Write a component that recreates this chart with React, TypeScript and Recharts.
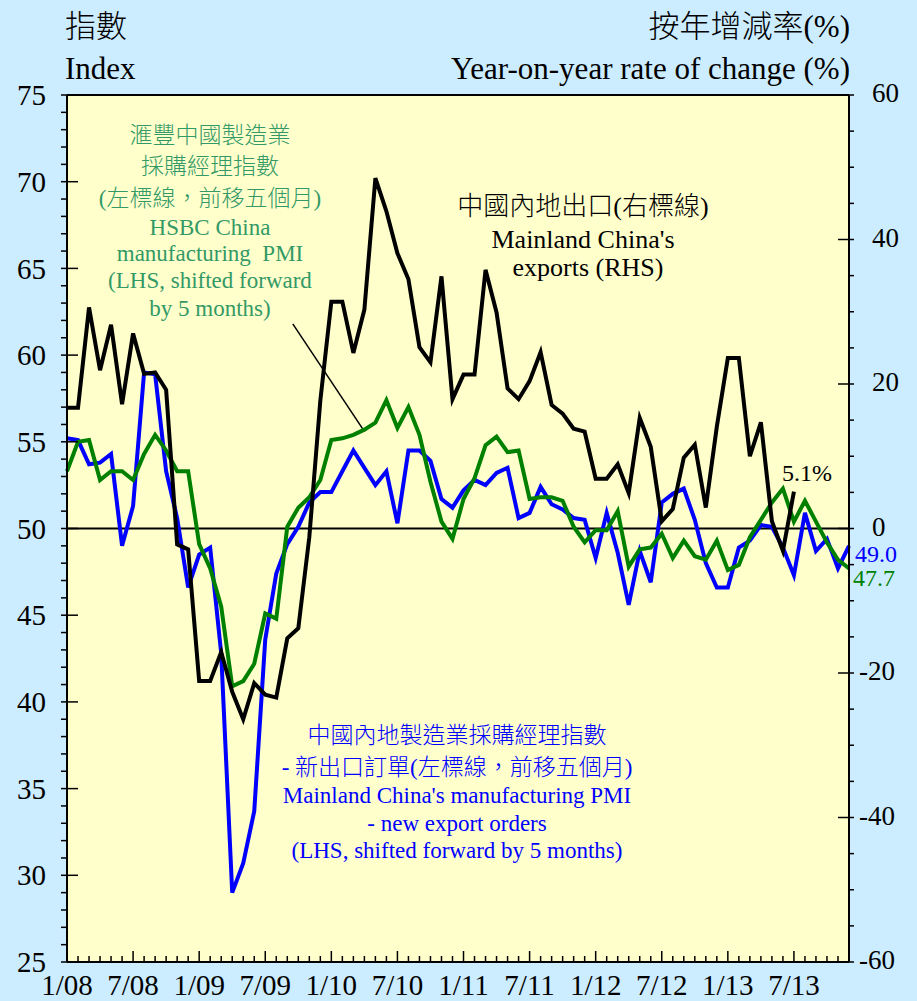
import React from 'react'
import { ComposedChart, Line, XAxis, YAxis, CartesianGrid, ReferenceLine } from 'recharts'

// month index 0 = Jan 2008 ... 71 = Dec 2013
const TICK_LABELS = ['1/08', '7/08', '1/09', '7/09', '1/10', '7/10', '1/11', '7/11', '1/12', '7/12', '1/13', '7/13']

// Mainland China exports, y-o-y % (RHS), Jan 2008 - Jul 2013
const EXPORTS = [
  16.7, 16.7, 30.6, 21.9, 28.2, 17.2, 27.0, 21.4, 21.6, 19.2, -2.2, -2.9,
  -21.1, -21.1, -17.1, -22.6, -26.4, -21.4, -23.0, -23.4, -15.2, -13.8, -1.2, 17.7,
  31.4, 31.4, 24.3, 30.3, 48.5, 43.9, 38.1, 34.5, 25.1, 23.0, 34.9, 17.9,
  21.3, 21.3, 35.8, 29.9, 19.4, 17.9, 20.4, 24.4, 17.1, 15.9, 13.8, 13.4,
  6.9, 6.9, 8.9, 4.9, 15.3, 11.3, 1.0, 2.7, 9.8, 11.6, 2.9, 14.1,
  23.6, 23.6, 10.0, 14.7, 1.0, -3.1, 5.1,
]

// HSBC China manufacturing PMI (LHS), shifted forward by 5 months
const HSBC_PMI = [
  53.3, 55.0, 55.1, 52.8, 53.3, 53.3, 52.8, 54.3, 55.4, 54.5, 53.3, 53.3,
  49.1, 47.7, 45.5, 40.9, 41.2, 42.2, 45.1, 44.8, 50.1, 51.2, 51.8, 52.8,
  55.1, 55.2, 55.4, 55.7, 56.1, 57.4, 55.8, 57.0, 55.4, 52.7, 50.4, 49.4,
  51.7, 52.9, 54.8, 55.3, 54.4, 54.5, 51.7, 51.8, 51.8, 51.6, 50.1, 49.2,
  49.9, 49.9, 51.0, 47.8, 48.8, 48.9, 49.7, 48.3, 49.3, 48.4, 48.2, 49.3,
  47.6, 47.9, 49.5, 50.5, 51.5, 52.3, 50.4, 51.6, 50.4, 49.2, 48.2, 47.7,
]

// Mainland China manufacturing PMI - new export orders (LHS), shifted forward by 5 months
const NEW_EXPORT_ORDERS = [
  55.2, 55.1, 53.7, 53.8, 54.3, 49.0, 51.3, 59.0, 58.9, 53.3, 50.6, 46.6,
  48.5, 48.9, 42.8, 29.0, 30.7, 33.7, 43.6, 47.4, 49.1, 50.1, 51.5, 52.1,
  52.1, 53.3, 54.5, 53.5, 52.5, 53.3, 50.3, 54.5, 54.5, 53.9, 51.7, 51.2,
  52.2, 52.8, 52.5, 53.2, 53.5, 50.6, 50.9, 52.4, 51.4, 51.1, 50.6, 50.5,
  48.3, 50.9, 48.6, 45.6, 48.7, 46.9, 51.5, 52.0, 52.3, 50.5, 48.0, 46.6,
  46.6, 48.9, 49.3, 50.2, 50.1, 48.9, 47.3, 50.9, 48.7, 49.4, 47.7, 49.0,
]

const LEFT_TICKS = Array.from({ length: 51 }, (_, k) => 25 + k)
const RIGHT_TICKS = Array.from({ length: 25 }, (_, k) => -60 + k * 5)
const X_TICKS = HSBC_PMI.map((_, i) => i)

// pointer from the HSBC label to its line (month index, LHS value)
const LEADER = [{ x: 20.5, y: 61.8 }, { x: 27.0, y: 55.6 }]

const data = HSBC_PMI.map((v, i) => ({
  i,
  hsbc: v,
  nbs: NEW_EXPORT_ORDERS[i],
  exports: i < EXPORTS.length ? EXPORTS[i] : null,
}))

const SERIF = '"Liberation Serif", "Times New Roman", "Noto Sans CJK TC", serif'
const BG = '#CCECFF'
const PLOT_BG = '#FFFFCC'
const GREEN = '#008000'
const GREEN_TEXT = '#339966'
const BLUE = '#0000FF'
const TICK_FONT = 29

function XTick(props: any) {
  const { x, y, payload } = props
  const i = payload.value
  const major = i % 6 === 0
  const label = major ? TICK_LABELS[i / 6] : undefined
  return (
    <g>
      <line x1={x} x2={x} y1={y} y2={y - (major ? 11 : 6)} stroke="#000" strokeWidth={1.5} />
      {label && (
        <text x={x} y={y + 33} textAnchor="middle" fontSize={TICK_FONT} fontFamily={SERIF} fill="#000">
          {label}
        </text>
      )}
    </g>
  )
}

function LeftTick(props: any) {
  const { x, y, payload } = props
  const v = payload.value
  const major = v % 5 === 0
  return (
    <g>
      <line x1={x - 6} x2={x + (major ? 11 : 0)} y1={y} y2={y} stroke="#000" strokeWidth={1.5} />
      {major && (
        <text x={x - 21} y={y} dy="0.35em" textAnchor="end" fontSize={TICK_FONT} fontFamily={SERIF} fill="#000">
          {v}
        </text>
      )}
    </g>
  )
}

function RightTick(props: any) {
  const { x, y, payload } = props
  const v = payload.value
  const major = v % 20 === 0
  return (
    <g>
      <line x1={x - (major ? 11 : 0)} x2={x + 5} y1={y} y2={y} stroke="#000" strokeWidth={1.5} />
      {major && (
        <text x={v < 0 ? x + 10 : x + 23} y={y - 2} dy="0.35em" textAnchor="start" fontSize={27} fontFamily={SERIF} fill="#000">
          {v}
        </text>
      )}
    </g>
  )
}

function Label({ x, y, children, color = '#000', size = 23, align = 'center' }: any) {
  const tx = align === 'center' ? '-50%' : align === 'right' ? '-100%' : '0'
  return (
    <div
      style={{
        position: 'absolute',
        left: x,
        top: y,
        transform: `translate(${tx}, -50%)`,
        whiteSpace: 'nowrap',
        color,
        fontSize: size,
        fontFamily: SERIF,
        fontWeight: 300,
        lineHeight: 1,
      }}
    >
      {children}
    </div>
  )
}

export default function App() {
  return (
    <div style={{ position: 'absolute', left: 0, top: 0, width: 917, height: 1001, background: BG, overflow: 'hidden' }}>
      <ComposedChart width={917} height={1001} data={data} margin={{ top: 95, right: 0, bottom: 0, left: 0 }}>
        <CartesianGrid yAxisId="left" fill={PLOT_BG} horizontal={false} vertical={false} />
        <XAxis
          dataKey="i"
          type="number"
          domain={[0, 71]}
          ticks={X_TICKS}
          interval={0}
          height={39}
          tickSize={0}
          tickMargin={0}
          tickLine={false}
          tick={<XTick />}
          axisLine={{ stroke: '#000', strokeWidth: 2 }}
        />
        <YAxis
          yAxisId="left"
          domain={[25, 75]}
          ticks={LEFT_TICKS}
          interval={0}
          width={67}
          tickSize={0}
          tickMargin={0}
          tickLine={false}
          tick={<LeftTick />}
          axisLine={{ stroke: '#000', strokeWidth: 2 }}
        />
        <YAxis
          yAxisId="right"
          orientation="right"
          domain={[-60, 60]}
          ticks={RIGHT_TICKS}
          interval={0}
          width={68}
          tickSize={0}
          tickMargin={0}
          tickLine={false}
          tick={<RightTick />}
          axisLine={{ stroke: '#000', strokeWidth: 2 }}
        />
        <ReferenceLine yAxisId="left" y={75} stroke="#000" strokeWidth={2} />
        <ReferenceLine yAxisId="right" y={0} stroke="#000" strokeWidth={2} />
        <ReferenceLine yAxisId="left" segment={LEADER} stroke="#000" strokeWidth={1.5} />
        <Line yAxisId="left" type="linear" dataKey="nbs" stroke={BLUE} strokeWidth={4} dot={false} isAnimationActive={false} />
        <Line yAxisId="left" type="linear" dataKey="hsbc" stroke={GREEN} strokeWidth={4} dot={false} isAnimationActive={false} />
        <Line yAxisId="right" type="linear" dataKey="exports" stroke="#000" strokeWidth={4} dot={false} isAnimationActive={false} />
      </ComposedChart>

      <Label x={65} y={26} size={31} align="left">指數</Label>
      <Label x={65} y={68} size={31} align="left">Index</Label>
      <Label x={850} y={26} size={31} align="right">按年增減率(%)</Label>
      <Label x={850} y={68} size={31} align="right">Year-on-year rate of change (%)</Label>

      <Label x={210} y={135} color={GREEN_TEXT}>滙豐中國製造業</Label>
      <Label x={210} y={166} color={GREEN_TEXT}>採購經理指數</Label>
      <Label x={210} y={198} color={GREEN_TEXT}>(左標線，前移五個月)</Label>
      <Label x={210} y={227} color={GREEN_TEXT}>HSBC China</Label>
      <Label x={210} y={253} color={GREEN_TEXT}>manufacturing&nbsp; PMI</Label>
      <Label x={210} y={280} color={GREEN_TEXT}>(LHS, shifted forward</Label>
      <Label x={210} y={308} color={GREEN_TEXT}>by 5 months)</Label>

      <Label x={583} y={207} size={26}>中國內地出口(右標線)</Label>
      <Label x={583} y={240} size={26}>Mainland China's</Label>
      <Label x={588} y={268} size={26}>exports (RHS)</Label>

      <Label x={457} y={735} color={BLUE}>中國內地製造業採購經理指數</Label>
      <Label x={457} y={767} color={BLUE}>- 新出口訂單(左標線，前移五個月)</Label>
      <Label x={457} y={795} color={BLUE}>Mainland China's manufacturing PMI</Label>
      <Label x={457} y={823} color={BLUE}>- new export orders</Label>
      <Label x={457} y={850} color={BLUE}>(LHS, shifted forward by 5 months)</Label>

      <Label x={782} y={473} size={24} align="left">5.1%</Label>
      <Label x={855} y={554} size={24} color={BLUE} align="left">49.0</Label>
      <Label x={853} y={578} size={24} color={GREEN} align="left">47.7</Label>
    </div>
  )
}
